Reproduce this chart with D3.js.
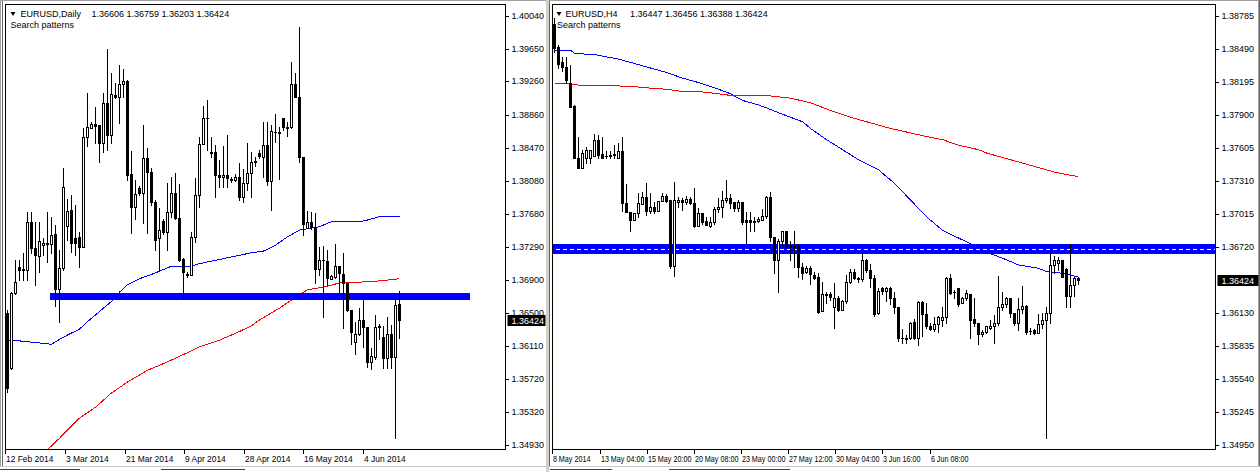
<!DOCTYPE html>
<html><head><meta charset="utf-8">
<script src="https://cdn.jsdelivr.net/npm/d3@7"></script>
<style>
html,body{margin:0;padding:0;background:#fff;}
svg{display:block;}
</style></head><body>
<svg id="c" width="1260" height="472"></svg>
<script>
// ===== Daily data (EURUSD, Daily) =====
const dOpen=[1.3650,1.3585,1.3674,1.3705,1.3703,1.3702,1.3759,1.3728,1.3718,1.3731,1.3734,1.3732,1.3744,1.3679,1.3704,1.3754,1.3773,1.3740,1.3741,1.3729,1.3860,1.3871,1.3875,1.3874,1.3853,1.3900,1.3862,1.3910,1.3908,1.3923,1.3927,1.3816,1.3777,1.3799,1.3793,1.3835,1.3818,1.3782,1.3740,1.3760,1.3747,1.3771,1.3793,1.3763,1.3715,1.3697,1.3696,1.3741,1.3791,1.3852,1.3883,1.3842,1.3842,1.3815,1.3812,1.3815,1.3810,1.3809,1.3812,1.3788,1.3805,1.3817,1.3830,1.3841,1.3836,1.3850,1.3807,1.3866,1.3866,1.3883,1.3872,1.3872,1.3923,1.3908,1.3836,1.3752,1.3759,1.3753,1.3703,1.3713,1.3712,1.3691,1.3693,1.3706,1.3697,1.3686,1.3654,1.3616,1.3625,1.3642,1.3634,1.3592,1.3598,1.3635,1.3622,1.3597,1.3625,1.3598,1.36606];
const dHigh=[1.3654,1.3675,1.3713,1.3713,1.3722,1.3770,1.3771,1.3759,1.3759,1.3740,1.3770,1.3765,1.3755,1.3725,1.3823,1.3786,1.3791,1.3779,1.3747,1.3871,1.3912,1.3878,1.3896,1.3874,1.3912,1.3965,1.3936,1.3924,1.3946,1.3941,1.3928,1.3843,1.3809,1.3802,1.3874,1.3847,1.3823,1.3785,1.3775,1.3762,1.3805,1.3812,1.3817,1.3804,1.3716,1.3699,1.3747,1.3811,1.3860,1.3897,1.3904,1.3860,1.3850,1.3833,1.3849,1.3862,1.3812,1.3816,1.3829,1.3822,1.3853,1.3842,1.3836,1.3844,1.3878,1.3878,1.3874,1.3887,1.3872,1.3883,1.3878,1.3949,1.3936,1.3991,1.3836,1.3772,1.3771,1.3769,1.3729,1.3730,1.3725,1.3696,1.3732,1.3706,1.3722,1.3686,1.3654,1.3640,1.3656,1.3667,1.3634,1.3609,1.3648,1.3637,1.3635,1.3645,1.3636,1.3668,1.36759];
const dLow=[1.3556,1.3583,1.3673,1.3690,1.3690,1.3690,1.3722,1.3684,1.3699,1.3719,1.3711,1.3722,1.3659,1.3640,1.3702,1.3737,1.3723,1.3719,1.3705,1.3729,1.3849,1.3870,1.3853,1.3830,1.3842,1.3844,1.3853,1.3906,1.3877,1.3908,1.3809,1.3746,1.3762,1.3791,1.3757,1.3746,1.3779,1.3725,1.3702,1.3744,1.3725,1.3765,1.3762,1.3712,1.3669,1.3693,1.3695,1.3735,1.3777,1.3851,1.3844,1.3836,1.3788,1.3800,1.3800,1.3800,1.3806,1.3808,1.3785,1.3782,1.3797,1.3788,1.3825,1.3835,1.3812,1.3803,1.3773,1.3854,1.3810,1.3868,1.3861,1.3871,1.3907,1.3830,1.3743,1.3751,1.3750,1.3686,1.3696,1.3645,1.3684,1.3691,1.3692,1.3675,1.3632,1.3653,1.3613,1.3601,1.3624,1.3610,1.3586,1.3584,1.3595,1.3619,1.3585,1.3585,1.3585,1.3501,1.36203];
const dClose=[1.3561,1.3674,1.3687,1.3702,1.3702,1.3759,1.3728,1.3719,1.3736,1.3734,1.3732,1.3743,1.3679,1.3704,1.3800,1.3772,1.3734,1.3734,1.3729,1.3860,1.3872,1.3875,1.3873,1.3853,1.3900,1.3862,1.3911,1.3908,1.3923,1.3927,1.3815,1.3777,1.3792,1.3793,1.3835,1.3818,1.3782,1.3737,1.3749,1.3747,1.3771,1.3793,1.3763,1.3713,1.3699,1.3696,1.3741,1.3791,1.3852,1.3883,1.3882,1.3841,1.3815,1.3812,1.3815,1.3811,1.3809,1.3812,1.3788,1.3805,1.3817,1.3830,1.3831,1.3837,1.3850,1.3807,1.3867,1.3866,1.3865,1.3872,1.3871,1.3923,1.3908,1.3836,1.3756,1.3759,1.3753,1.3703,1.3713,1.3713,1.3692,1.3694,1.3706,1.3698,1.3686,1.3654,1.3628,1.3625,1.3642,1.3633,1.3592,1.3599,1.3633,1.3633,1.3597,1.3625,1.3598,1.3660,1.36424];
const dMaBlueIdx=[0,3,7,11,12,15,18,20,23,26,28,30,33,37,41,46,48,52,57,61,64,67,70,73,78,81,88,90,93,98];
const dMaBlueVal=[1.3617,1.3617,1.3615,1.3613,1.3616,1.3624,1.3631,1.3640,1.3652,1.3664,1.3675,1.3684,1.3691,1.3698,1.3706,1.3706,1.3709,1.3713,1.3718,1.3722,1.3724,1.3731,1.3741,1.3749,1.3753,1.3759,1.3759,1.3761,1.3765,1.3765];
const dMaRedIdx=[9,13,15,18,22,26,30,35,40,45,48,53,57,61,63,68,72,75,79,83,88,92,98];
const dMaRedVal=[1.3483,1.3501,1.3511,1.3525,1.3538,1.3555,1.3568,1.3582,1.3592,1.3603,1.3610,1.3618,1.3626,1.3635,1.3642,1.3656,1.3669,1.3678,1.3681,1.3686,1.3687,1.3688,1.3691];
const dZoneIdx=[10.6,115.6];
const dZonePrice=[1.3666,1.3674];
const dPriceTicks=[1.40040,1.39650,1.39260,1.38860,1.38470,1.38080,1.37680,1.37290,1.36900,1.36500,1.36110,1.35720,1.35320,1.34930];
const dTimeIdx=[-0.4,14.4,29.4,44.2,59.2,74.1,89];
const dTimeLabels=["12 Feb 2014","3 Mar 2014","21 Mar 2014","9 Apr 2014","28 Apr 2014","16 May 2014","4 Jun 2014"];
const dHeader=["EURUSD,Daily","1.36606 1.36759 1.36203 1.36424"];

// ===== H4 data (EURUSD, H4) =====
const hOpen=[1.3871,1.3851,1.3837,1.3833,1.3819,1.3798,1.3752,1.3743,1.3752,1.3752,1.3753,1.3768,1.3755,1.3753,1.3753,1.3754,1.3752,1.3758,1.3711,1.3703,1.3696,1.3702,1.3710,1.3717,1.3704,1.3708,1.3704,1.3713,1.3718,1.3714,1.3655,1.3712,1.3714,1.3712,1.3715,1.3711,1.3691,1.3702,1.3695,1.3691,1.3694,1.3706,1.3708,1.3714,1.3716,1.3712,1.3707,1.3712,1.3696,1.3696,1.3695,1.3695,1.3696,1.3700,1.3717,1.3681,1.3660,1.3677,1.3686,1.3673,1.3673,1.3673,1.3654,1.3650,1.3653,1.3647,1.3645,1.3615,1.3629,1.3630,1.3618,1.3626,1.3616,1.3624,1.3641,1.3650,1.3643,1.3643,1.3660,1.3651,1.3644,1.3613,1.3635,1.3633,1.3635,1.3626,1.3618,1.3591,1.3591,1.3591,1.3605,1.3591,1.3623,1.3612,1.3601,1.3599,1.3603,1.3607,1.3609,1.3644,1.3632,1.3635,1.3622,1.3626,1.3630,1.3608,1.3604,1.3594,1.3596,1.3600,1.3601,1.3604,1.3618,1.3621,1.3626,1.3613,1.3604,1.3617,1.3619,1.3597,1.3598,1.3595,1.3603,1.3607,1.3613,1.3656,1.3658,1.3660,1.3652,1.3628,1.3638,1.36447];
const hHigh=[1.3877,1.3853,1.3842,1.3842,1.3835,1.3799,1.3770,1.3759,1.3761,1.3759,1.3773,1.3772,1.3770,1.3758,1.3758,1.3763,1.3765,1.3770,1.3728,1.3703,1.3702,1.3720,1.3721,1.3729,1.3720,1.3712,1.3713,1.3720,1.3719,1.3714,1.3730,1.3717,1.3716,1.3718,1.3717,1.3725,1.3707,1.3702,1.3699,1.3699,1.3708,1.3716,1.3722,1.3732,1.3719,1.3712,1.3714,1.3712,1.3703,1.3703,1.3699,1.3699,1.3706,1.3718,1.3721,1.3681,1.3679,1.3686,1.3686,1.3677,1.3686,1.3675,1.3658,1.3655,1.3655,1.3650,1.3649,1.3641,1.3632,1.3632,1.3640,1.3628,1.3625,1.3647,1.3652,1.3652,1.3645,1.3667,1.3661,1.3657,1.3647,1.3635,1.3636,1.3636,1.3636,1.3632,1.3618,1.3599,1.3593,1.3605,1.3608,1.3624,1.3624,1.3622,1.3604,1.3609,1.3610,1.3618,1.3645,1.3648,1.3634,1.3635,1.3627,1.3634,1.3630,1.3626,1.3604,1.3598,1.3601,1.3607,1.3611,1.3646,1.3632,1.3627,1.3626,1.3613,1.3626,1.3637,1.3620,1.3600,1.3599,1.3612,1.3613,1.3618,1.3668,1.3664,1.3663,1.3660,1.3653,1.3675,1.3645,1.36456];
const hLow=[1.3846,1.3832,1.3829,1.3819,1.3797,1.3752,1.3743,1.3743,1.3747,1.3747,1.3753,1.3752,1.3752,1.3752,1.3752,1.3752,1.3752,1.3704,1.3703,1.3686,1.3696,1.3699,1.3710,1.3701,1.3702,1.3702,1.3704,1.3713,1.3712,1.3653,1.3646,1.3708,1.3705,1.3710,1.3710,1.3690,1.3691,1.3693,1.3692,1.3690,1.3693,1.3703,1.3699,1.3712,1.3707,1.3704,1.3704,1.3693,1.3676,1.3686,1.3686,1.3694,1.3696,1.3698,1.3677,1.3649,1.3632,1.3673,1.3672,1.3660,1.3654,1.3645,1.3643,1.3649,1.3639,1.3643,1.3613,1.3615,1.3622,1.3625,1.3600,1.3615,1.3616,1.3622,1.3640,1.3643,1.3641,1.3642,1.3650,1.3636,1.3610,1.3612,1.3630,1.3624,1.3621,1.3613,1.3588,1.3586,1.3586,1.3590,1.3590,1.3584,1.3592,1.3600,1.3598,1.3597,1.3596,1.3601,1.3604,1.3630,1.3626,1.3619,1.3622,1.3625,1.3591,1.3601,1.3585,1.3592,1.3595,1.3599,1.3586,1.3602,1.3616,1.3618,1.3609,1.3602,1.3598,1.3613,1.3594,1.3594,1.3594,1.3595,1.3600,1.3501,1.3604,1.3649,1.3651,1.3645,1.3618,1.3618,1.3628,1.36388];
const hClose=[1.3850,1.3836,1.3833,1.3821,1.3797,1.3752,1.3743,1.3756,1.3759,1.3759,1.3768,1.3754,1.3752,1.3753,1.3754,1.3755,1.3758,1.3711,1.3703,1.3696,1.3702,1.3711,1.3717,1.3704,1.3708,1.3704,1.3713,1.3718,1.3713,1.3655,1.3714,1.3714,1.3712,1.3715,1.3711,1.3691,1.3702,1.3694,1.3692,1.3694,1.3706,1.3708,1.3714,1.3716,1.3711,1.3707,1.3712,1.3694,1.3694,1.3694,1.3694,1.3697,1.3700,1.3717,1.3681,1.3660,1.3677,1.3686,1.3672,1.3672,1.3672,1.3654,1.3649,1.3653,1.3648,1.3644,1.3614,1.3630,1.3630,1.3627,1.3626,1.3616,1.3624,1.3641,1.3650,1.3644,1.3644,1.3660,1.3651,1.3644,1.3612,1.3633,1.3633,1.3635,1.3626,1.3618,1.3591,1.3591,1.3590,1.3604,1.3591,1.3623,1.3612,1.3601,1.3599,1.3603,1.3609,1.3609,1.3644,1.3631,1.3632,1.3621,1.3626,1.3631,1.3607,1.3604,1.3594,1.3596,1.3601,1.3601,1.3604,1.3618,1.3621,1.3626,1.3613,1.3604,1.3617,1.3619,1.3596,1.3597,1.3595,1.3603,1.3607,1.3613,1.3656,1.3660,1.3660,1.3645,1.3628,1.3638,1.3644,1.36424];
const hMaBlueIdx=[0,4,5,10,16,19,24,28,32,36,41,44,47,51,54,56,59,62,64,66,68,72,76,81,85,89,93,97,101,104,109,112,116,121,123,126,129,131];
const hMaBlueVal=[1.3848,1.3848,1.3845,1.3844,1.3840,1.3837,1.3832,1.3828,1.3823,1.3819,1.3813,1.3809,1.3803,1.3799,1.3795,1.3792,1.3788,1.3784,1.3778,1.3773,1.3768,1.3759,1.3750,1.3741,1.3729,1.3714,1.3699,1.3687,1.3680,1.3675,1.3666,1.3662,1.3656,1.3653,1.3650,1.3649,1.3647,1.3645];
const hMaRedIdx=[0,4,7,16,21,24,28,32,36,41,45,54,59,64,69,74,79,84,89,94,97,101,106,108,112,116,121,125,129,131];
const hMaRedVal=[1.3818,1.3818,1.3816,1.3816,1.3815,1.3814,1.3813,1.3811,1.3811,1.3809,1.3807,1.3807,1.3805,1.3801,1.3794,1.3788,1.3783,1.3778,1.3774,1.3770,1.3768,1.3763,1.3759,1.3756,1.3752,1.3748,1.3743,1.3739,1.3736,1.3735];
const hZoneIdx=[-5,200];
const hZonePrice=[1.36660,1.36747];
const hZoneMid=[1.36703];
const hPriceTicks=[1.38785,1.38490,1.38195,1.37900,1.37605,1.37310,1.37015,1.36720,1.36130,1.35835,1.35540,1.35245,1.34950];
const hTimeIdx=[-0.45,11.4,23.2,34.95,46.7,58.45,70.3,82.05,93.9];
const hTimeLabels=["8 May 2014","13 May 04:00","15 May 20:00","20 May 08:00","23 May 00:00","27 May 12:00","30 May 04:00","3 Jun 16:00","6 Jun 08:00"];
const hHeader=["EURUSD,H4","1.36447 1.36456 1.36388 1.36424"];

// ===== drawing =====
const FONT='"Liberation Sans", Arial, sans-serif';
const FS=9;
const svg=d3.select('#c');

// window chrome
svg.append('rect').attr('x',0).attr('y',0).attr('width',1260).attr('height',472).attr('fill','#fff');
const chrome=svg.append('g').attr('shape-rendering','crispEdges');
chrome.append('line').attr('x1',0).attr('x2',1260).attr('y1',0.5).attr('y2',0.5).attr('stroke','#a0a0a0');
chrome.append('line').attr('x1',0.5).attr('x2',0.5).attr('y1',0).attr('y2',467).attr('stroke','#a0a0a0');
chrome.append('line').attr('x1',2.5).attr('x2',2.5).attr('y1',1).attr('y2',467).attr('stroke','#696969');
chrome.append('rect').attr('x',546).attr('y',0).attr('width',3).attr('height',472).attr('fill','#d4d0c8');
chrome.append('line').attr('x1',549.5).attr('x2',549.5).attr('y1',1).attr('y2',467).attr('stroke','#696969');
chrome.append('line').attr('x1',1258.5).attr('x2',1258.5).attr('y1',1).attr('y2',467).attr('stroke','#a0a0a0');
chrome.append('line').attr('x1',1259.5).attr('x2',1259.5).attr('y1',0).attr('y2',467).attr('stroke','#696969');
chrome.append('line').attr('x1',0).attr('x2',1260).attr('y1',466.5).attr('y2',466.5).attr('stroke','#c8c8c8');
[[0,80],[161,245],[550,612],[669,790]].forEach(s=>{
  chrome.append('line').attr('x1',s[0]).attr('x2',s[1]).attr('y1',469.5).attr('y2',469.5).attr('stroke','#404040');
});

function drawPanel(p){
  const F=p.frame;
  const n=p.open.length;
  const x=d3.scaleLinear().domain([0,n-1]).range(p.xRange);
  const y=d3.scaleLinear().domain(p.yDomain).range([445,16]);
  const g=svg.append('g');
  const clipId='clip'+p.id;
  svg.append('clipPath').attr('id',clipId).append('rect')
    .attr('x',F.l+0.5).attr('y',F.t+0.5).attr('width',F.r-F.l-1).attr('height',F.b-F.t-1);
  const plot=g.append('g').attr('clip-path',`url(#${clipId})`);

  // moving averages
  p.mas.forEach(m=>{
    const pts=m.idx.map((d,i)=>({i:d,v:m.val[i]}));
    plot.append('path').attr('d',d3.line().x(d=>x(d.i)).y(d=>y(d.v))(pts))
      .attr('fill','none').attr('stroke',m.color).attr('stroke-width',1).attr('shape-rendering','crispEdges');
  });

  // zone
  const zy0=Math.round(y(p.zonePrice[1])), zy1=Math.round(y(p.zonePrice[0]));
  plot.append('rect').attr('x',x(p.zoneIdx[0])).attr('width',x(p.zoneIdx[1])-x(p.zoneIdx[0]))
    .attr('y',zy0).attr('height',zy1-zy0).attr('fill','#0000ff').attr('shape-rendering','crispEdges');
  (p.zoneMid||[]).forEach(v=>{
    plot.append('line').attr('x1',x(p.zoneIdx[0])).attr('x2',x(p.zoneIdx[1]))
      .attr('y1',Math.round(y(v))+0.5).attr('y2',Math.round(y(v))+0.5)
      .attr('stroke','#fff').attr('stroke-dasharray','4,3').attr('shape-rendering','crispEdges');
  });

  // candles
  const idx=d3.range(n);
  const cx=i=>Math.round(x(i)-0.5)+0.5;
  const cg=plot.append('g').attr('shape-rendering','crispEdges');
  cg.selectAll('line.wick').data(idx).join('line').attr('class','wick')
    .attr('x1',cx).attr('x2',cx)
    .attr('y1',i=>Math.round(y(p.high[i])))
    .attr('y2',i=>Math.round(y(p.low[i]))+1)
    .attr('stroke','#000');
  const bodyTop=i=>Math.round(y(Math.max(p.open[i],p.close[i])));
  const bodyBot=i=>Math.round(y(Math.min(p.open[i],p.close[i])));
  const flat=idx.filter(i=>bodyBot(i)-bodyTop(i)<1);
  const full=idx.filter(i=>bodyBot(i)-bodyTop(i)>=1);
  cg.selectAll('rect.body').data(full).join('rect').attr('class','body')
    .attr('x',i=>cx(i)-1).attr('width',2)
    .attr('y',i=>bodyTop(i)+0.5).attr('height',i=>bodyBot(i)-bodyTop(i))
    .attr('fill',i=>p.close[i]>=p.open[i]?'#fff':'#000')
    .attr('stroke','#000');
  cg.selectAll('line.doji').data(flat).join('line').attr('class','doji')
    .attr('x1',i=>cx(i)-1.5).attr('x2',i=>cx(i)+1.5)
    .attr('y1',i=>bodyTop(i)+0.5).attr('y2',i=>bodyTop(i)+0.5)
    .attr('stroke','#000');

  // frame
  g.append('rect').attr('x',F.l).attr('y',F.t).attr('width',F.r-F.l).attr('height',F.b-F.t)
    .attr('fill','none').attr('stroke','#000').attr('shape-rendering','crispEdges');

  // price axis
  const yAxis=d3.axisRight(y).tickValues(p.priceTicks).tickSize(3).tickPadding(3)
    .tickFormat(d3.format('.5f')).offset(0);
  const ya=g.append('g').attr('transform',`translate(${F.r},0)`).call(yAxis);
  ya.select('.domain').remove();
  ya.attr('font-family',FONT).attr('font-size',FS);
  ya.selectAll('.tick').attr('transform',d=>`translate(0,${Math.round(y(d))+0.5})`);
  ya.selectAll('.tick line').attr('stroke','#000').attr('shape-rendering','crispEdges');
  ya.selectAll('.tick text').attr('fill','#000');

  // current price box
  const last=p.close[n-1];
  const yc=Math.round(y(last));
  g.append('rect').attr('x',F.r+2).attr('y',yc-5).attr('width',p.boxW).attr('height',11).attr('fill','#000');
  g.append('text').attr('x',F.r+6).attr('y',yc+0.5).attr('dy','0.35em')
    .attr('font-family',FONT).attr('font-size',FS).attr('fill','#fff').text(d3.format('.5f')(last));

  // time axis
  const xAxis=d3.axisBottom(x).tickValues(p.timeIdx).tickFormat((d,i)=>p.timeLabels[i]).tickSize(4).offset(0);
  const xa=g.append('g').attr('transform',`translate(0,${F.b})`).call(xAxis);
  xa.select('.domain').remove();
  xa.attr('font-family',FONT).attr('font-size',FS);
  xa.selectAll('.tick').attr('transform',d=>`translate(${Math.round(x(d)-0.5)+0.5},0)`);
  xa.selectAll('.tick line').attr('stroke','#000').attr('shape-rendering','crispEdges');
  xa.selectAll('.tick text').attr('text-anchor','start').attr('x',0.5).attr('y',6).attr('dy','0.71em')
    .attr('fill','#000').attr('transform',`scale(${p.timeScaleX},1)`);

  // header
  const tri=p.header.tri;
  g.append('path').attr('d',`M${tri}h5l-2.5,4z`).attr('fill','#000');
  g.append('text').attr('x',p.header.nameX).attr('y',17).attr('font-family',FONT).attr('font-size',FS).attr('fill','#000').text(p.headerText[0]);
  g.append('text').attr('x',p.header.valX).attr('y',17).attr('font-family',FONT).attr('font-size',FS).attr('fill','#000').text(p.headerText[1]);
  g.append('text').attr('x',p.header.sx).attr('y',27.5).attr('font-family',FONT).attr('font-size',FS).attr('fill','#000').text('Search patterns');
}

drawPanel({
  id:'d', open:dOpen, high:dHigh, low:dLow, close:dClose,
  frame:{l:5.5,r:505.5,t:4.5,b:449.5},
  xRange:[7.5,7.5+4*(dOpen.length-1)],
  yDomain:[1.34930,1.40040],
  priceTicks:dPriceTicks,
  mas:[{idx:dMaBlueIdx,val:dMaBlueVal,color:'#0000ff'},{idx:dMaRedIdx,val:dMaRedVal,color:'#ff0000'}],
  zoneIdx:dZoneIdx, zonePrice:dZonePrice, zoneMid:[],
  timeIdx:dTimeIdx, timeLabels:dTimeLabels, timeScaleX:0.94,
  boxW:38,
  header:{tri:'10.5,12',nameX:20.5,valX:91.5,sx:10.5},
  headerText:dHeader
});
drawPanel({
  id:'h', open:hOpen, high:hHigh, low:hLow, close:hClose,
  frame:{l:552.5,r:1215.5,t:4.5,b:449.5},
  xRange:[554.5,554.5+4*(hOpen.length-1)],
  yDomain:[1.34950,1.38785],
  priceTicks:hPriceTicks,
  mas:[{idx:hMaBlueIdx,val:hMaBlueVal,color:'#0000ff'},{idx:hMaRedIdx,val:hMaRedVal,color:'#ff0000'}],
  zoneIdx:hZoneIdx, zonePrice:hZonePrice, zoneMid:hZoneMid,
  timeIdx:hTimeIdx, timeLabels:hTimeLabels, timeScaleX:0.8,
  boxW:41,
  header:{tri:'556.5,12',nameX:565.5,valX:630,sx:557},
  headerText:hHeader
});
</script>
</body></html>
